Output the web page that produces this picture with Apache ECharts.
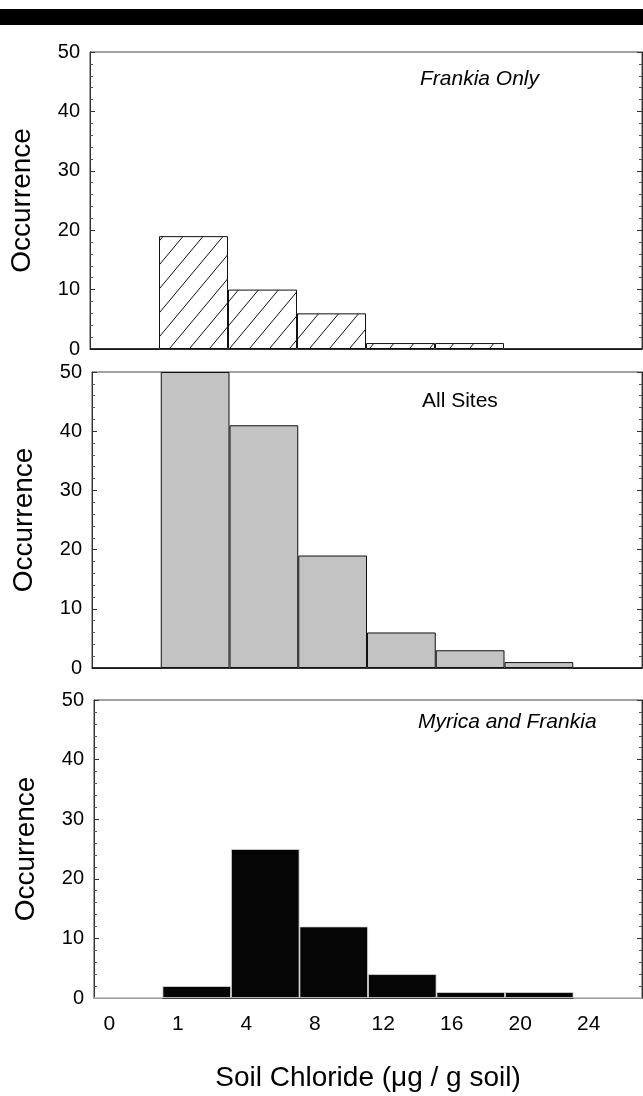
<!DOCTYPE html>
<html><head><meta charset="utf-8">
<script src="https://cdn.jsdelivr.net/npm/echarts@6/dist/echarts.min.js"></script>
<style>html,body{margin:0;padding:0;background:#fff}#c{width:643px;height:1096px}</style>
</head><body><div id="c"></div>
<script>
// ---- data ----
const categories = ['0', '1', '4', '8', '12', '16', '20', '24'];
const frankiaOnly = [0, 19, 10, 6, 1, 1, 0, 0];
const allSites = [0, 50, 41, 19, 6, 3, 1, 0];
const myricaFrankia = [0, 2, 25, 12, 4, 1, 1, 0];
const yMin = 0, yMax = 50, yInterval = 10;
const panelTitles = ['Frankia Only', 'All Sites', 'Myrica and Frankia'];
const yTitle = 'Occurrence';
const xTitle = 'Soil Chloride (\u03bcg / g soil)';

const FONT = '"Liberation Sans", Arial, sans-serif';

function hatchCanvas() {
  const c = document.createElement('canvas');
  c.width = 20; c.height = 24;
  const g = c.getContext('2d');
  g.fillStyle = '#fff'; g.fillRect(0, 0, 20, 24);
  g.strokeStyle = '#111'; g.lineWidth = 1;
  for (const o of [-20, 0, 20]) {
    g.beginPath(); g.moveTo(o, 24); g.lineTo(o + 20, 0); g.stroke();
  }
  return c;
}

const grids = [
  { left: 90, right: 1, top: 52, height: 297 },
  { left: 92, right: 1, top: 372, height: 296 },
  { left: 94, right: 1, top: 700, height: 298 }
].map(g => Object.assign({ show: true, borderColor: '#444', borderWidth: 1, backgroundColor: 'transparent' }, g));

const seriesData = [frankiaOnly, allSites, myricaFrankia];
const barStyles = [
  { color: { image: hatchCanvas(), repeat: 'repeat' }, borderColor: '#111', borderWidth: 1 },
  { color: '#c3c3c3', borderColor: '#111', borderWidth: 1 },
  { color: '#050505', borderColor: '#ddd', borderWidth: 0.8 }
];

const xAxes = [], yAxes = [], series = [];
for (let i = 0; i < 3; i++) {
  xAxes.push({
    gridIndex: i, type: 'category', data: categories, boundaryGap: true,
    axisLine: { show: true, lineStyle: { color: '#333', width: 1 } },
    axisTick: { show: false },
    axisLabel: {
      show: i === 2, color: '#000', fontFamily: FONT, fontSize: 21, margin: 16,
      padding: [0, 38, 0, 0]
    },
    name: i === 2 ? xTitle : '', nameLocation: 'middle', nameGap: 66,
    nameTextStyle: { color: '#000', fontFamily: FONT, fontSize: 28 }
  });
  const common = {
    gridIndex: i, type: 'value', min: yMin, max: yMax, interval: yInterval,
    splitLine: { show: false },
    axisLine: { show: true, lineStyle: { color: '#333', width: 1 } },
    axisTick: { show: true, inside: true, length: 5, lineStyle: { color: '#333' } },
    minorTick: { show: true, splitNumber: 5, length: 3, lineStyle: { color: '#555' } }
  };
  yAxes.push(Object.assign({}, common, {
    position: 'left',
    axisLabel: { color: '#000', fontFamily: FONT, fontSize: 20, margin: 10 },
    name: yTitle, nameLocation: 'middle', nameGap: 54,
    nameTextStyle: { color: '#000', fontFamily: FONT, fontSize: 28 }
  }));
  yAxes.push(Object.assign({}, common, {
    position: 'right', axisLabel: { show: false }
  }));
  series.push({
    type: 'bar', xAxisIndex: i, yAxisIndex: 2 * i,
    data: seriesData[i], barCategoryGap: '0%', barGap: '0%',
    itemStyle: barStyles[i], silent: true
  });
}

const titlePos = [[420, 69], [422, 391], [418, 712]];
const graphic = [
  { type: 'rect', shape: { x: 0, y: 9, width: 643, height: 16 }, style: { fill: '#000' } }
];
for (let i = 0; i < 3; i++) {
  graphic.push({
    type: 'text', x: titlePos[i][0], y: titlePos[i][1],
    style: {
      text: panelTitles[i], fill: '#000',
      font: (i === 1 ? '' : 'italic ') + '21px ' + FONT
    }
  });
}

const chart = echarts.init(document.getElementById('c'), null, { renderer: 'canvas' });
chart.setOption({
  animation: false,
  backgroundColor: '#fff',
  grid: grids, xAxis: xAxes, yAxis: yAxes, series: series, graphic: graphic
});
</script>
</body></html>
